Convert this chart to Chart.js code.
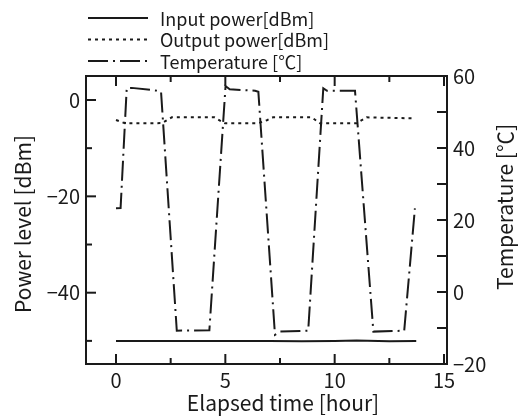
<!DOCTYPE html>
<html lang="en">
<head>
    <meta charset="UTF-8">
    <title>Power level and temperature</title>
    <script src="https://cdn.jsdelivr.net/npm/chart.js@4/dist/chart.umd.min.js"></script>
    <style>
        html, body {
            margin: 0;
            padding: 0;
            background: #ffffff;
        }
        canvas {
            display: block;
        }
    </style>
</head>
<body>
<canvas id="chart" width="518" height="418"></canvas>
<script>
    // elapsed time [hour] and readings
    var inputTime = [0, 2, 4, 6, 7, 8.5, 10, 11, 12.5, 13.73];
    var inputPower = [-50, -50, -50, -50, -50, -50.1, -50, -49.9, -50.1, -50.05];

    var outputTime = [0, 0.41, 2.1, 2.55, 4.5, 4.98, 6.49, 6.9, 7.18, 8.95, 9.33, 11.0, 11.46, 13.52];
    var outputPower = [-4.15, -4.84, -4.8, -3.6, -3.6, -4.84, -4.84, -4.2, -3.6, -3.6, -4.84, -4.84, -3.6, -3.8];

    var tempTime = [0, 0.21, 0.49, 0.72, 1.93, 2.06, 2.78, 4.27, 5.01, 5.2, 6.36, 6.51, 7.27, 7.5,
        8.79, 9.48, 9.65, 10.93, 11.77, 13.18, 13.67];
    var temperature = [23.25, 23.3, 56.6, 56.7, 55.9, 55.6, -10.75, -10.6, 57.2, 56.3, 55.9, 55.6, -11.9, -11.0,
        -10.75, 56.6, 55.9, 55.9, -11.0, -10.75, 23.25];

    // tick labels
    var timeTicks = [0, 5, 10, 15];
    var timeMinor = [2.5, 7.5, 12.5];
    var powerTicks = [0, -20, -40];
    var powerMinor = [-10, -30, -50];
    var tempTicks = [60, 40, 20, 0, -20];
    var tempMinor = [50, 30, 10, -10];

    var FONT = '"Noto Sans CJK JP", "Noto Sans", sans-serif';
    var INK = '#1a1a1a';

    function points(xs, ys) {
        return xs.map(function (x, i) {
            return {x: x, y: ys[i]};
        });
    }

    function minus(v) {
        return String(v).replace('-', '\u2212');
    }

    var decorations = {
        id: 'decorations',
        afterDatasetsDraw: function (chart) {
            var ctx = chart.ctx;
            var a = chart.chartArea;
            var sx = chart.scales.x, sy = chart.scales.y, st = chart.scales.y1;
            ctx.save();
            ctx.strokeStyle = INK;
            ctx.lineWidth = 2;
            ctx.setLineDash([]);
            ctx.strokeRect(a.left, a.top, a.right - a.left, a.bottom - a.top);

            function tick(x1, y1, x2, y2) {
                ctx.beginPath();
                ctx.moveTo(x1, y1);
                ctx.lineTo(x2, y2);
                ctx.stroke();
            }

            // inward ticks on all four sides
            timeTicks.forEach(function (v) {
                var px = sx.getPixelForValue(v);
                tick(px, a.bottom, px, a.bottom - 10);
                tick(px, a.top, px, a.top + 10);
            });
            timeMinor.forEach(function (v) {
                var px = sx.getPixelForValue(v);
                tick(px, a.bottom, px, a.bottom - 6);
                tick(px, a.top, px, a.top + 6);
            });
            powerTicks.forEach(function (v) {
                var py = sy.getPixelForValue(v);
                tick(a.left, py, a.left + 10, py);
            });
            powerMinor.forEach(function (v) {
                var py = sy.getPixelForValue(v);
                tick(a.left, py, a.left + 6, py);
            });
            tempTicks.concat(tempMinor).forEach(function (v) {
                var py = st.getPixelForValue(v);
                tick(a.right, py, a.right - 10, py);
            });

            // axis titles
            ctx.fillStyle = INK;
            ctx.textAlign = 'center';
            ctx.textBaseline = 'middle';
            ctx.font = '21px ' + FONT;
            ctx.fillText('Elapsed time [hour]', (sx.getPixelForValue(0) + sx.getPixelForValue(15)) / 2 + 3, 403);

            ctx.save();
            ctx.translate(23, 224);
            ctx.rotate(-Math.PI / 2);
            ctx.fillText('Power level [dBm]', 0, 0);
            ctx.restore();

            ctx.save();
            ctx.translate(505, 207);
            ctx.rotate(-Math.PI / 2);
            ctx.fillText('Temperature [\u2103]', 0, 0);
            ctx.restore();

            // legend, one row per dataset
            ctx.font = '18px ' + FONT;
            ctx.textAlign = 'left';
            chart.data.datasets.forEach(function (ds, i) {
                var y = 18 + i * 21.5;
                ctx.setLineDash(ds.borderDash || []);
                ctx.lineWidth = 2;
                tick(88, y, 148, y);
                ctx.setLineDash([]);
                ctx.fillText(ds.label, 160, y + 1);
            });
            ctx.restore();
        }
    };

    function axisTicks(values) {
        return function (s) {
            s.ticks = values.map(function (v) { return {value: v}; });
        };
    }

    var tickFont = {family: FONT, size: 20};

    var ctx = document.getElementById('chart').getContext('2d');
    var chart = new Chart(ctx, {
        type: 'line',
        data: {
            datasets: [
                {
                    label: 'Input power[dBm]',
                    data: points(inputTime, inputPower),
                    yAxisID: 'y',
                    borderColor: INK,
                    borderWidth: 2,
                    pointRadius: 0,
                    tension: 0
                },
                {
                    label: 'Output power[dBm]',
                    data: points(outputTime, outputPower),
                    yAxisID: 'y',
                    borderColor: INK,
                    borderWidth: 2,
                    borderDash: [3, 4],
                    pointRadius: 0,
                    tension: 0
                },
                {
                    label: 'Temperature [\u2103]',
                    data: points(tempTime, temperature),
                    yAxisID: 'y1',
                    borderColor: INK,
                    borderWidth: 2,
                    borderDash: [20, 5, 2, 5],
                    pointRadius: 0,
                    tension: 0
                }
            ]
        },
        options: {
            responsive: false,
            animation: false,
            layout: {padding: {top: 76}},
            plugins: {
                legend: {display: false},
                tooltip: {enabled: false}
            },
            scales: {
                x: {
                    type: 'linear',
                    position: 'bottom',
                    min: -1.372,
                    max: 15.137,
                    grid: {display: false, drawTicks: false},
                    border: {display: false},
                    afterBuildTicks: axisTicks(timeTicks),
                    afterFit: function (s) { s.height = 54; },
                    ticks: {
                        padding: 4,
                        color: INK,
                        font: tickFont,
                        maxRotation: 0,
                        callback: function (v) { return minus(v); }
                    }
                },
                y: {
                    position: 'left',
                    min: -54.8,
                    max: 4.98,
                    grid: {display: false, drawTicks: false},
                    border: {display: false},
                    afterBuildTicks: axisTicks(powerTicks),
                    afterFit: function (s) { s.width = 86; },
                    ticks: {
                        padding: 6,
                        color: INK,
                        font: tickFont,
                        callback: function (v) { return minus(v); }
                    }
                },
                y1: {
                    position: 'right',
                    min: -20,
                    max: 60,
                    grid: {display: false, drawTicks: false},
                    border: {display: false},
                    afterBuildTicks: axisTicks(tempTicks),
                    afterFit: function (s) { s.width = 71; },
                    ticks: {
                        padding: 6,
                        color: INK,
                        font: tickFont,
                        callback: function (v) { return minus(v); }
                    }
                }
            }
        },
        plugins: [decorations]
    });
</script>
</body>
</html>
